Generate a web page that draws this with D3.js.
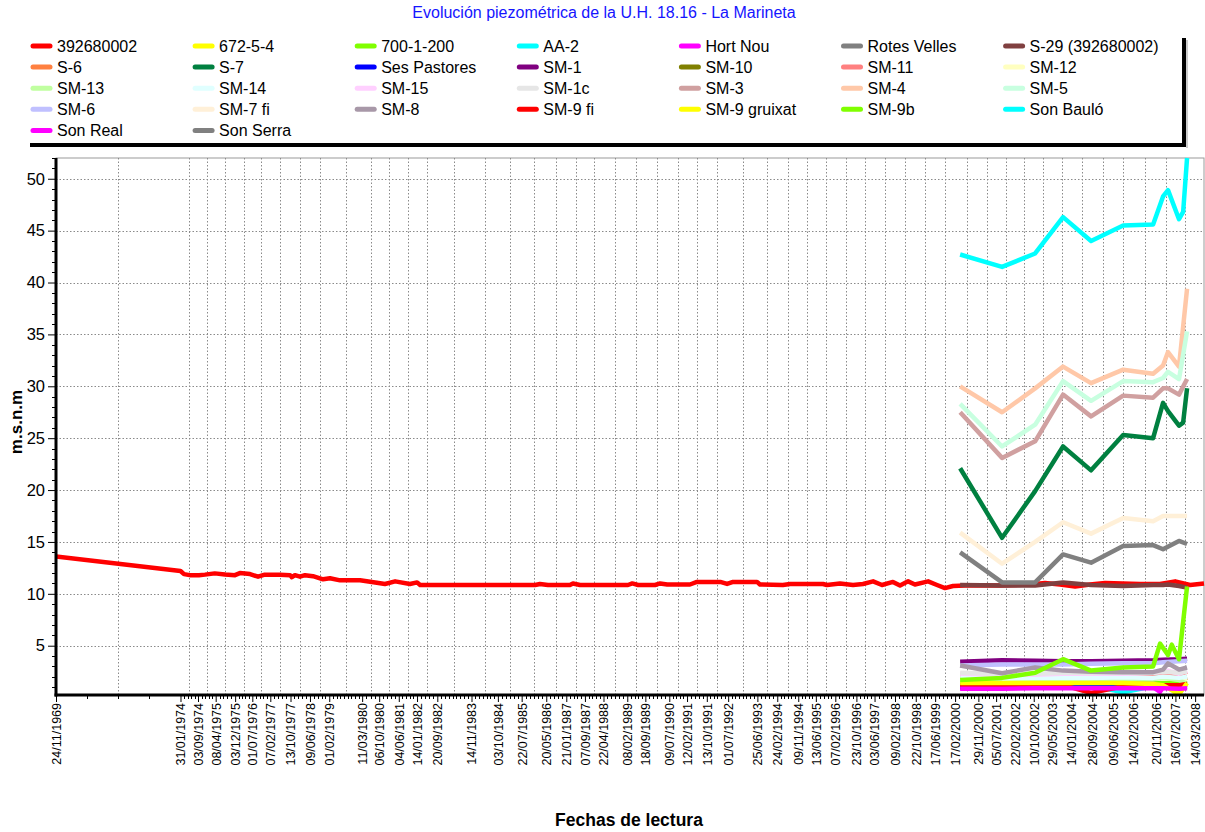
<!DOCTYPE html>
<html>
<head>
<meta charset="utf-8">
<script src="https://cdn.jsdelivr.net/npm/d3@7"></script>
<style>
  html, body { margin: 0; padding: 0; background: #fff; }
  svg { display: block; font-family: "Liberation Sans", Arial, sans-serif; }
</style>
</head>
<body>
<svg id="chart" width="1205" height="832"></svg>
<script>
// ---------------- DATA ----------------
const chartTitle = "Evolución piezométrica de la U.H. 18.16 - La Marineta";
const yTitle = "m.s.n.m";
const xTitle = "Fechas de lectura";

const seriesNames = ["392680002", "672-5-4", "700-1-200", "AA-2", "Hort Nou", "Rotes Velles", "S-29 (392680002)",
  "S-6", "S-7", "Ses Pastores", "SM-1", "SM-10", "SM-11", "SM-12",
  "SM-13", "SM-14", "SM-15", "SM-1c", "SM-3", "SM-4", "SM-5",
  "SM-6", "SM-7 fi", "SM-8", "SM-9 fi", "SM-9 gruixat", "SM-9b", "Son Bauló",
  "Son Real", "Son Serra"];

const palette = ["#FF0000", "#FFFF00", "#80FF00", "#00FFFF", "#FF00FF", "#808080", "#804040",
  "#FF8040", "#008040", "#0000FF", "#800080", "#808000", "#FF8080", "#FFFFC0",
  "#C0FFA0", "#E0FFFF", "#FFD0FF", "#E6E6E6", "#D0A0A0", "#FFC8A8", "#C8FFE0",
  "#C0C0FF", "#FFF0D8", "#A898A8"];

const xTickLabels = ["24/11/1969", "31/01/1974", "03/09/1974", "08/04/1975", "03/12/1975", "01/07/1976",
  "07/02/1977", "13/10/1977", "09/06/1978", "01/02/1979", "11/03/1980", "06/10/1980", "04/06/1981",
  "14/01/1982", "20/09/1982", "14/11/1983", "03/10/1984", "22/07/1985", "20/05/1986", "21/01/1987",
  "07/09/1987", "22/04/1988", "08/02/1989", "18/09/1989", "09/07/1990", "12/02/1991", "13/10/1991",
  "01/07/1992", "25/06/1993", "24/02/1994", "09/11/1994", "13/06/1995", "07/02/1996", "23/10/1996",
  "03/06/1997", "09/02/1998", "22/10/1998", "17/06/1999", "17/02/2000", "29/11/2000", "05/07/2001",
  "22/02/2002", "10/10/2002", "29/05/2003", "14/01/2004", "28/09/2004", "09/06/2005", "14/02/2006",
  "20/11/2006", "16/07/2007", "14/03/2008"];

const yTicks = [5, 10, 15, 20, 25, 30, 35, 40, 45, 50];

// long record of 392680002
const mainDates = ["1969-11-24", "1974-01-31", "1974-03-15", "1974-05-25", "1974-09-15", "1974-11-27",
  "1975-03-28", "1975-07-31", "1975-12-01", "1976-01-30", "1976-06-03", "1976-09-09", "1976-12-01",
  "1977-06-06", "1977-10-08", "1977-10-30", "1977-12-06", "1978-02-06", "1978-04-09", "1978-07-16",
  "1978-11-17", "1979-02-10", "1979-06-14", "1980-02-14", "1980-08-18", "1980-12-16", "1981-04-20",
  "1981-10-19", "1982-01-15", "1982-02-21", "1986-01-04", "1986-03-03", "1986-06-10", "1987-03-07",
  "1987-04-13", "1987-07-09", "1989-02-17", "1989-04-10", "1989-06-21", "1990-01-15", "1990-03-18",
  "1990-06-14", "1991-03-20", "1991-06-13", "1992-03-26", "1992-06-18", "1992-08-30", "1993-06-21",
  "1993-07-27", "1994-05-04", "1994-07-31", "1995-09-09", "1995-10-26", "1996-04-04", "1996-09-12",
  "1997-01-12", "1997-05-16", "1997-09-02", "1998-01-15", "1998-04-12", "1998-07-20", "1998-10-12",
  "1999-03-23", "1999-07-10", "1999-10-16", "2000-01-22", "2000-06-17", "2001-08-22", "2002-08-25",
  "2003-02-25", "2003-08-29", "2004-03-01", "2004-09-01", "2005-03-04", "2006-05-08", "2007-01-08",
  "2007-07-13", "2008-01-12", "2008-07-01"];
const main392680002 = [13.6, 12.2, 11.9, 11.8, 11.8, 11.85,
  11.97, 11.87, 11.8, 12.0, 11.9, 11.65, 11.85,
  11.85, 11.8, 11.6, 11.8, 11.65, 11.8, 11.7,
  11.4, 11.5, 11.3, 11.3, 11.1, 10.95, 11.2,
  10.95, 11.1, 10.85, 10.85, 10.95, 10.85, 10.85,
  11.0, 10.85, 10.85, 11.0, 10.85, 10.85, 11.0,
  10.9, 10.9, 11.15, 11.15, 10.95, 11.15, 11.15,
  10.9, 10.85, 10.95, 10.95, 10.85, 11.0, 10.85,
  10.95, 11.2, 10.85, 11.15, 10.8, 11.2, 10.9,
  11.2, 10.85, 10.55, 10.75, 10.8, 10.8, 10.9,
  11.05, 10.9, 10.7, 10.9, 11.05, 10.95, 10.95,
  11.2, 10.85, 11.0];

// survey campaigns 2000-2008 (null = not measured)
const recentDates = ["2000-04-19", "2001-09-16", "2002-10-27", "2003-10-05", "2004-09-13", "2005-10-12",
  "2006-10-15", "2007-01-08", "2007-02-14", "2007-04-16", "2007-06-01", "2007-08-29", "2007-10-19", "2007-12-06"];
const v672_5_4    = [1.45, 1.45, 1.45, 1.5, 1.45, 1.45, 1.45, null, 1.45, null, null, 1.4, null, 1.45];
const v700_1_200  = [1.55, 1.5, 1.5, 1.55, 1.55, 1.5, 1.5, null, 1.5, null, null, 1.5, null, 1.6];
const vAA_2       = [1.3, 1.2, 1.3, 1.25, 1.15, 0.5, 1.1, 0.75, 1.2, null, null, 1.1, null, 1.2];
const vHortNou    = [0.95, 0.95, 0.95, 0.95, 0.95, 1.0, 1.0, 0.55, 1.0, null, null, 1.0, null, 1.05];
const vRotesVelles= [2.0, 2.0, 2.0, 2.0, 2.0, 2.0, 2.0, null, 1.95, null, null, 1.9, null, 1.95];
const vS29        = [10.85, 10.8, 10.8, 11.1, 10.85, 10.75, 10.85, null, 10.85, 10.9, null, 10.75, null, 10.6];
const vS6         = [1.8, 1.75, 1.8, 1.8, 1.75, 1.8, 1.8, null, 1.85, null, null, 1.8, null, 1.9];
const vS7         = [22.1, 15.4, 19.9, 24.2, 21.9, 25.3, 25.0, null, 28.4, 27.6, null, 26.2, 26.5, 29.8];
const vSesPastores= [1.0, 1.0, 1.0, 1.0, 1.0, 1.0, 1.0, null, 1.0, null, null, 1.0, null, 1.0];
const vSM1        = [3.45, 3.6, 3.55, 3.5, 3.5, 3.55, 3.6, null, 3.65, null, null, 3.7, null, 3.75];
const vSM10       = [1.9, 1.9, 1.9, 1.9, 1.9, 1.9, 1.9, null, 1.9, null, null, 1.85, null, 1.9];
const vSM11       = [2.2, 2.1, 2.2, 2.3, 2.2, 2.2, 2.3, null, 2.4, null, null, 2.2, null, 2.5];
const vSM12       = [1.7, 1.7, 1.75, 1.8, 1.75, 1.8, 1.8, null, 1.85, null, null, 1.8, null, 1.8];
const vSM13       = [1.7, 1.7, 1.7, 1.8, 1.8, 1.8, 1.8, null, 1.9, null, null, 1.7, null, 1.3];
const vSM14       = [1.9, 1.85, 1.9, 1.9, 1.9, 1.95, 1.9, null, 2.0, null, null, 1.9, null, 2.0];
const vSM15       = [2.3, 2.2, 2.2, 2.3, 2.3, 2.3, 2.4, null, 2.5, 2.6, null, 2.3, null, 2.6];
const vSM1c       = [2.4, 2.3, 2.3, 2.4, 2.4, 2.4, 2.4, null, 2.5, null, null, 2.4, null, 2.5];
const vSM3        = [27.5, 23.1, 24.7, 29.2, 27.1, 29.1, 28.9, null, 29.8, 29.8, null, 29.2, null, 30.7];
const vSM4        = [30.0, 27.5, 29.8, 31.9, 30.3, 31.6, 31.2, null, 32.0, 33.3, null, 31.9, null, 39.4];
const vSM5        = [28.3, 24.2, 26.3, 30.5, 28.6, 30.5, 30.4, null, 30.8, 31.4, null, 30.7, null, 35.3];
const vSM6        = [3.1, 3.2, 3.2, 3.2, 3.25, 3.3, 3.3, null, 3.4, null, null, 3.5, null, 3.55];
const vSM7fi      = [15.9, 12.9, 15.0, 16.9, 15.8, 17.3, 17.0, null, 17.5, null, null, null, null, 17.5];
const vSM8        = [3.1, 2.35, 2.9, 2.6, 2.5, 2.45, 2.45, null, 2.7, 3.3, null, 2.7, null, 2.9];
const vSM9fi      = [1.2, 1.1, 1.2, 1.2, 0.45, 1.1, 1.2, null, 1.2, null, null, 1.2, null, 1.3];
const vSM9gruixat = [1.4, 1.4, 1.4, 1.4, 1.4, 1.4, 1.3, null, 1.2, null, null, 0.3, null, 1.4];
const vSM9b       = [1.7, 1.9, 2.4, 3.7, 2.6, 2.9, 3.0, 5.2, null, 4.1, 5.1, 3.7, null, 10.7];
const vSonBaulo   = [42.7, 41.5, 42.8, 46.3, 44.0, 45.5, 45.6, null, 48.3, 48.9, null, 46.1, 46.8, 52.0];
const vSonReal    = [0.85, 0.85, 0.9, 0.9, 0.9, 0.9, 0.9, null, 0.9, null, null, 0.85, null, 0.9];
const vSonSerra   = [14.0, 11.1, 11.1, 13.8, 13.0, 14.6, 14.7, null, 14.3, null, null, 15.1, null, 14.8];

const recentValues = [null, v672_5_4, v700_1_200, vAA_2, vHortNou, vRotesVelles, vS29,
  vS6, vS7, vSesPastores, vSM1, vSM10, vSM11, vSM12,
  vSM13, vSM14, vSM15, vSM1c, vSM3, vSM4, vSM5,
  vSM6, vSM7fi, vSM8, vSM9fi, vSM9gruixat, vSM9b, vSonBaulo,
  vSonReal, vSonSerra];

// ---------------- CHART ----------------
const svg = d3.select("#chart");
const FONT = "'Liberation Sans', Arial, sans-serif";
const parseISO = d3.timeParse("%Y-%m-%d");
const parseLbl = d3.timeParse("%d/%m/%Y");
const fmtLbl = d3.timeFormat("%d/%m/%Y");

const plot = { left: 56, right: 1204, top: 158, bottom: 695 };

const x = d3.scaleTime()
  .domain([parseISO("1969-11-24"), parseISO("2008-07-01")])
  .range([plot.left, plot.right]);
const y = d3.scaleLinear().domain([0.25, 52]).range([plot.bottom, plot.top]);

const series = seriesNames.map((name, i) => {
  let pts;
  if (i === 0) {
    pts = mainDates.map((d, k) => ({ date: parseISO(d), v: main392680002[k] }));
  } else {
    pts = recentDates.map((d, k) => ({ date: parseISO(d), v: recentValues[i][k] }))
      .filter(p => p.v !== null);
  }
  return { name, color: palette[i % palette.length], pts };
});

// Title
svg.append("text").attr("x", 604).attr("y", 18).attr("text-anchor", "middle")
  .attr("font-size", 16).attr("fill", "#1515FF").text(chartTitle);

// Legend
const legG = svg.append("g");
const colW = 162.1, rowH = 21.1;
series.forEach((s, i) => {
  const col = i % 7, row = Math.floor(i / 7);
  const gx = 31 + col * colW, gy = 46 + row * rowH;
  legG.append("line").attr("x1", gx + 2).attr("x2", gx + 19).attr("y1", gy).attr("y2", gy)
    .attr("stroke", s.color).attr("stroke-width", 5).attr("stroke-linecap", "round");
  legG.append("text").attr("x", gx + 26).attr("y", gy).attr("dy", "0.36em")
    .attr("font-size", 16).attr("fill", "#000").text(s.name);
});
// legend frame shadow (bottom & right)
svg.append("line").attr("x1", 30).attr("x2", 1186).attr("y1", 145).attr("y2", 145)
  .attr("stroke", "#000").attr("stroke-width", 4);
svg.append("line").attr("x1", 1184).attr("x2", 1184).attr("y1", 38).attr("y2", 147)
  .attr("stroke", "#000").attr("stroke-width", 4);
svg.append("line").attr("x1", 1187).attr("x2", 1187).attr("y1", 40).attr("y2", 148)
  .attr("stroke", "#999").attr("stroke-width", 1);

// plot frame (top/right thin)
svg.append("rect").attr("x", plot.left).attr("y", plot.top)
  .attr("width", plot.right - plot.left).attr("height", plot.bottom - plot.top)
  .attr("fill", "none").attr("stroke", "#9a9a9a").attr("stroke-width", 1);

// Gridlines
const grid = svg.append("g").attr("stroke", "#8a8a8a").attr("stroke-width", 1)
  .attr("stroke-dasharray", "1.5,2");
yTicks.forEach(t => {
  grid.append("line").attr("x1", plot.left).attr("x2", plot.right)
    .attr("y1", Math.round(y(t)) + 0.5).attr("y2", Math.round(y(t)) + 0.5);
});
const tickDates = xTickLabels.map(parseLbl);
for (let k = 0; k < tickDates.length - 1; k++) {
  const mid = (x(tickDates[k]) + x(tickDates[k + 1])) / 2;
  grid.append("line").attr("x1", Math.round(mid) + 0.5).attr("x2", Math.round(mid) + 0.5)
    .attr("y1", plot.top).attr("y2", plot.bottom);
}

// Series lines
svg.append("clipPath").attr("id", "clip").append("rect")
  .attr("x", plot.left).attr("y", plot.top - 1)
  .attr("width", plot.right - plot.left + 2).attr("height", plot.bottom - plot.top + 1);
const line = d3.line().x(d => x(d.date)).y(d => y(d.v));
const lines = svg.append("g").attr("clip-path", "url(#clip)");
series.forEach((s, i) => {
  lines.append("path").datum(s.pts).attr("d", line)
    .attr("fill", "none").attr("stroke", s.color)
    .attr("stroke-width", 4.5)
    .attr("stroke-linejoin", "round").attr("stroke-linecap", "butt");
});

// Y axis
const yAxisG = svg.append("g").attr("transform", `translate(${plot.left},0)`)
  .call(d3.axisLeft(y).tickValues(yTicks).tickSize(8).tickPadding(3).tickFormat(d3.format("d")));
yAxisG.select(".domain").remove();
yAxisG.selectAll("text").attr("font-size", 16.5).attr("font-family", FONT).attr("fill", "#000");
yAxisG.selectAll("line").attr("stroke", "#000");
const yMinor = d3.range(1, 53).filter(v => v % 5 !== 0);
svg.append("g").selectAll("line").data(yMinor).join("line")
  .attr("x1", plot.left - 4).attr("x2", plot.left)
  .attr("y1", d => Math.round(y(d)) + 0.5).attr("y2", d => Math.round(y(d)) + 0.5)
  .attr("stroke", "#000");

// X axis
const xAxisG = svg.append("g").attr("transform", `translate(0,${plot.bottom})`)
  .call(d3.axisBottom(x).tickValues(tickDates).tickSize(7).tickFormat(fmtLbl));
xAxisG.select(".domain").remove();
xAxisG.selectAll("line").attr("stroke", "#000");
xAxisG.selectAll("text")
  .attr("font-size", 12.5).attr("font-family", FONT).attr("fill", "#000")
  .attr("transform", "rotate(-90)").attr("text-anchor", "end")
  .attr("x", -8).attr("y", 0).attr("dy", "0.35em");
// minor x ticks
const xMinor = [];
for (let k = 0; k < tickDates.length - 1; k++) {
  const a = x(tickDates[k]), b = x(tickDates[k + 1]);
  const n = (b - a) > 60 ? 4 : Math.max(2, Math.round((b - a) / 3.8));
  for (let j = 1; j < n; j++) xMinor.push(a + (b - a) * j / n);
}
svg.append("g").selectAll("line").data(xMinor).join("line")
  .attr("x1", d => Math.round(d) + 0.5).attr("x2", d => Math.round(d) + 0.5)
  .attr("y1", plot.bottom).attr("y2", plot.bottom + 4).attr("stroke", "#000");

// axis lines (thick)
svg.append("line").attr("x1", plot.left).attr("x2", plot.left)
  .attr("y1", plot.top).attr("y2", plot.bottom + 1.5).attr("stroke", "#000").attr("stroke-width", 3);
svg.append("line").attr("x1", plot.left - 1.5).attr("x2", plot.right)
  .attr("y1", plot.bottom).attr("y2", plot.bottom).attr("stroke", "#000").attr("stroke-width", 3);

// Axis titles
svg.append("text").attr("transform", "translate(22,422) rotate(-90)").attr("text-anchor", "middle")
  .attr("font-size", 17).attr("font-weight", "bold").attr("fill", "#000").text(yTitle);
svg.append("text").attr("x", 629).attr("y", 826).attr("text-anchor", "middle")
  .attr("font-size", 17.5).attr("font-weight", "bold").attr("fill", "#000").text(xTitle);
</script>
</body>
</html>
